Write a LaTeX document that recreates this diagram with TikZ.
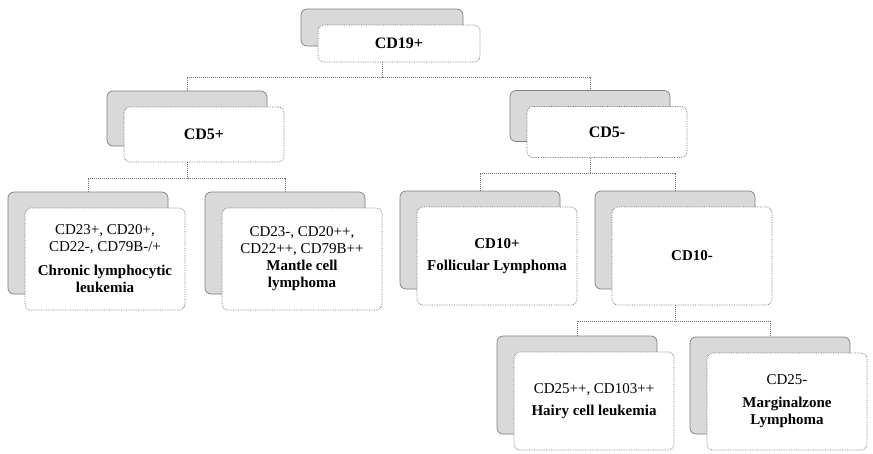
\documentclass[tikz,border=0pt]{standalone}
\usepackage{fontspec}
\setmainfont{Liberation Serif}
\newcommand\hfnt{\fontsize{16}{19}\selectfont\bfseries}
\newcommand\mfnt{\fontsize{15}{17}\selectfont}
\newcommand\dfnt{\fontsize{15}{17}\selectfont\bfseries}
\tikzset{
  front/.style={draw=black!55, line width=0.7pt, densely dotted, fill=white,
    rounded corners=6pt, minimum width=160pt, align=center, inner sep=2pt, font=\mfnt},
  shade/.style={draw=black!50, line width=0.7pt, fill=gray!30,
    rounded corners=6pt, minimum width=160pt, inner sep=0pt},
  conn/.style={draw=black!55, line width=1pt, densely dotted},
}
\begin{document}
\begin{tikzpicture}[x=1pt,y=-1pt]
\fill[white] (0,0) rectangle (873,453);
\useasboundingbox (0,0) rectangle (873,453);

% shadows
\node[shade, minimum width=162pt, minimum height=37pt] (s19) at (382,27.5) {};
\node[shade, minimum height=55pt] (s5p) at (187,118.5) {};
\node[shade, minimum height=51pt] (s5m) at (590,116) {};
\node[shade, minimum height=102pt] (scll) at (88,243) {};
\node[shade, minimum height=102pt] (smcl) at (285,243) {};
\node[shade, minimum height=98pt] (s10p) at (480,240) {};
\node[shade, minimum height=98pt] (s10m) at (675,240) {};
\node[shade, minimum height=98pt] (shcl) at (577,385) {};
\node[shade, minimum height=97pt] (smz) at (770,385.5) {};

% front boxes
\node[front, minimum width=162pt, minimum height=37pt] (f19) at (399,43.5) {\hfnt CD19+};
\node[front, minimum height=55pt] (f5p) at (204,134.5) {\hfnt CD5+};
\node[front, minimum height=51pt] (f5m) at (607,132) {\hfnt CD5-};
\node[front, minimum height=102pt] (fcll) at (105,259)
  {CD23+, CD20+,\\ CD22-, CD79B-/+\\[7pt] \dfnt Chronic lymphocytic\\ \dfnt leukemia};
\node[front, minimum height=102pt] (fmcl) at (302,259)
  {CD23-, CD20++,\\ CD22++, CD79B++\\ \dfnt Mantle cell\\ \dfnt lymphoma};
\node[front, minimum height=98pt] (f10p) at (497,256)
  {\dfnt CD10+\\[5pt] \dfnt Follicular Lymphoma};
\node[front, minimum height=98pt] (f10m) at (692,256) {\dfnt CD10-};
\node[front, minimum height=98pt] (fhcl) at (594,401)
  {CD25++, CD103++\\[5pt] \dfnt Hairy cell leukemia};
\node[front, minimum height=97pt] (fmz) at (787,401.5)
  {CD25-\\[6pt] \dfnt Marginalzone\\ \dfnt Lymphoma};

% buses
\coordinate (b19) at (382,77);
\coordinate (b5p) at (187,178);
\coordinate (b5m) at (590,173);
\coordinate (b10m) at (675,321);

% connectors
\draw[conn] (s19.center |- f19.south) -- (b19);
\draw[conn] (s5p.north) |- (b19) -| (s5m.north);
\draw[conn] (s5p.center |- f5p.south) -- (b5p);
\draw[conn] (scll.north) |- (b5p) -| (smcl.north);
\draw[conn] (s5m.center |- f5m.south) -- (b5m);
\draw[conn] (s10p.north) |- (b5m) -| (s10m.north);
\draw[conn] (s10m.center |- f10m.south) -- (b10m);
\draw[conn] (shcl.north) |- (b10m) -| (smz.north);
\end{tikzpicture}
\end{document}
